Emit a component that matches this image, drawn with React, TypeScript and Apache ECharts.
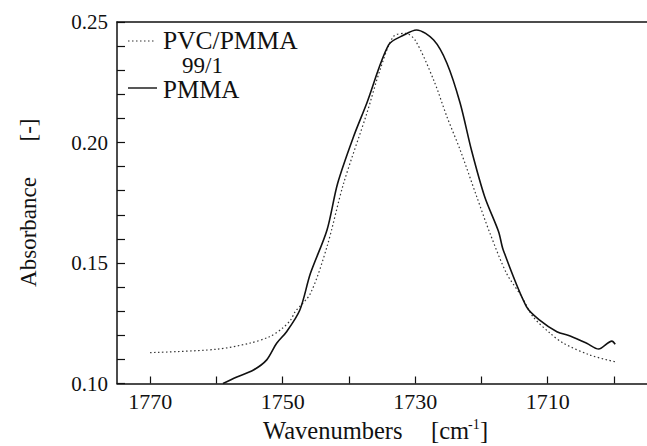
import React, { useEffect, useRef } from "react";
import * as echarts from "echarts";

// PVC/PMMA 99/1 (dotted)
const blendWn = [1770, 1760, 1755, 1752, 1750, 1748.8, 1748.1, 1745.8, 1743.3, 1740.8, 1737.3, 1735.3, 1733.3, 1731.5, 1730.0, 1727.2, 1725.2, 1723.2, 1720.7, 1718.7, 1716.2, 1713.9, 1712.2, 1709.6, 1707.6, 1703.6, 1699.8];
const blendAbs = [0.1128, 0.1142, 0.1167, 0.1194, 0.123, 0.1263, 0.1298, 0.1374, 0.1568, 0.183, 0.212, 0.2301, 0.2439, 0.2453, 0.2425, 0.2259, 0.2107, 0.1969, 0.1775, 0.1623, 0.1457, 0.136, 0.1277, 0.1208, 0.1167, 0.1118, 0.109];

// PMMA (solid)
const pmmaWn = [1759, 1757, 1754.4, 1752.4, 1750.9, 1749.4, 1747.4, 1745.8, 1743.3, 1741.7, 1739.3, 1737.3, 1734.0, 1731.7, 1729.8, 1727.2, 1725.2, 1723.2, 1721.5, 1719.5, 1717.4, 1716.7, 1713.2, 1711.2, 1708.6, 1706.6, 1704.1, 1702.3, 1700.3, 1699.8];
const pmmaAbs = [0.1, 0.1026, 0.1056, 0.1098, 0.1167, 0.1215, 0.1305, 0.1457, 0.1637, 0.183, 0.2024, 0.2163, 0.2405, 0.2446, 0.2467, 0.2425, 0.2329, 0.2163, 0.1969, 0.1775, 0.163, 0.1554, 0.1319, 0.1263, 0.1215, 0.1197, 0.1167, 0.1143, 0.1176, 0.1163];

const xTicks = [1770, 1760, 1750, 1740, 1730, 1720, 1710, 1700];
const xLabels = [1770, 1750, 1730, 1710];

const FONT = "Liberation Serif";
const INK = "#111";

export default function App() {
  const ref = useRef<HTMLDivElement>(null);
  useEffect(() => {
    const chart = echarts.init(ref.current!, null, { renderer: "svg" });
    const pairs = (xs: number[], ys: number[]) => xs.map((x, i) => [x, ys[i]]);
    const txt = (text: string, x: number, y: number, size: number, rot = 0, align = "left") => ({
      type: "text",
      x,
      y,
      rotation: rot,
      style: { text, fontSize: size, lineHeight: Math.round(size * 0.92), fontFamily: FONT, fill: INK, align, verticalAlign: "middle" },
    });
    chart.setOption({
      animation: false,
      backgroundColor: "#fff",
      textStyle: { fontFamily: FONT },
      grid: { left: 117, right: 0, top: 22, bottom: 62.5 },
      xAxis: [
        {
          type: "value",
          inverse: true,
          min: 1695,
          max: 1775,
          axisLine: { show: true, onZero: false, lineStyle: { color: INK, width: 1.5 } },
          axisTick: { show: true, inside: true, length: 7, customValues: xTicks, lineStyle: { color: INK, width: 1.2 } },
          axisLabel: { customValues: xLabels, margin: 7, fontSize: 22, fontFamily: FONT, color: INK, formatter: (v: number) => String(v) },
          splitLine: { show: false },
        },
        {
          type: "value",
          position: "top",
          inverse: true,
          min: 1695,
          max: 1775,
          axisLine: { show: true, onZero: false, lineStyle: { color: INK, width: 1.5 } },
          axisTick: { show: false },
          axisLabel: { show: false },
          splitLine: { show: false },
        },
      ],
      yAxis: {
        type: "value",
        min: 0.1,
        max: 0.25,
        interval: 0.05,
        axisLine: { show: true, lineStyle: { color: INK, width: 1.5 } },
        axisTick: { show: true, inside: true, length: 8, lineStyle: { color: INK, width: 1.2 } },
        minorTick: { show: true, splitNumber: 5, length: 8, lineStyle: { color: INK, width: 1.2 } },
        axisLabel: {
          margin: 9,
          fontSize: 21,
          fontFamily: FONT,
          color: INK,
          formatter: (v: number) => v.toFixed(2),
        },
        splitLine: { show: false },
      },
      series: [
        {
          type: "line",
          name: "PVC/PMMA 99/1",
          xAxisIndex: 0,
          data: pairs(blendWn, blendAbs),
          showSymbol: false,
          smooth: 0.3,
          lineStyle: { color: "#333", width: 1.2, type: [1.5, 2.5] },
        },
        {
          type: "line",
          name: "PMMA",
          xAxisIndex: 0,
          data: pairs(pmmaWn, pmmaAbs),
          showSymbol: false,
          smooth: 0.3,
          lineStyle: { color: INK, width: 1.6 },
        },
      ],
      graphic: [
        { type: "line", shape: { x1: 128, y1: 41, x2: 155, y2: 41 }, style: { stroke: "#333", lineWidth: 1.2, lineDash: [1.5, 2.5] } },
        txt("PVC/PMMA", 163, 40, 25.5),
        txt("99/1", 182, 65, 23),
        { type: "line", shape: { x1: 128, y1: 88, x2: 157, y2: 88 }, style: { stroke: INK, lineWidth: 1.4 } },
        txt("PMMA", 163, 89, 25),
        txt("Wavenumbers", 263, 430, 24.5),
        txt("[cm", 431, 430, 24.5),
        txt("-1", 468, 424, 14),
        txt("]", 480, 430, 24.5),
        txt("Absorbance", 28, 232, 23, Math.PI / 2, "center"),
        txt("[-]", 28, 130, 23, Math.PI / 2, "center"),
      ],
    });
    return () => chart.dispose();
  }, []);
  return <div ref={ref} style={{ position: "fixed", left: 0, top: 0, width: 647, height: 446 }} />;
}
